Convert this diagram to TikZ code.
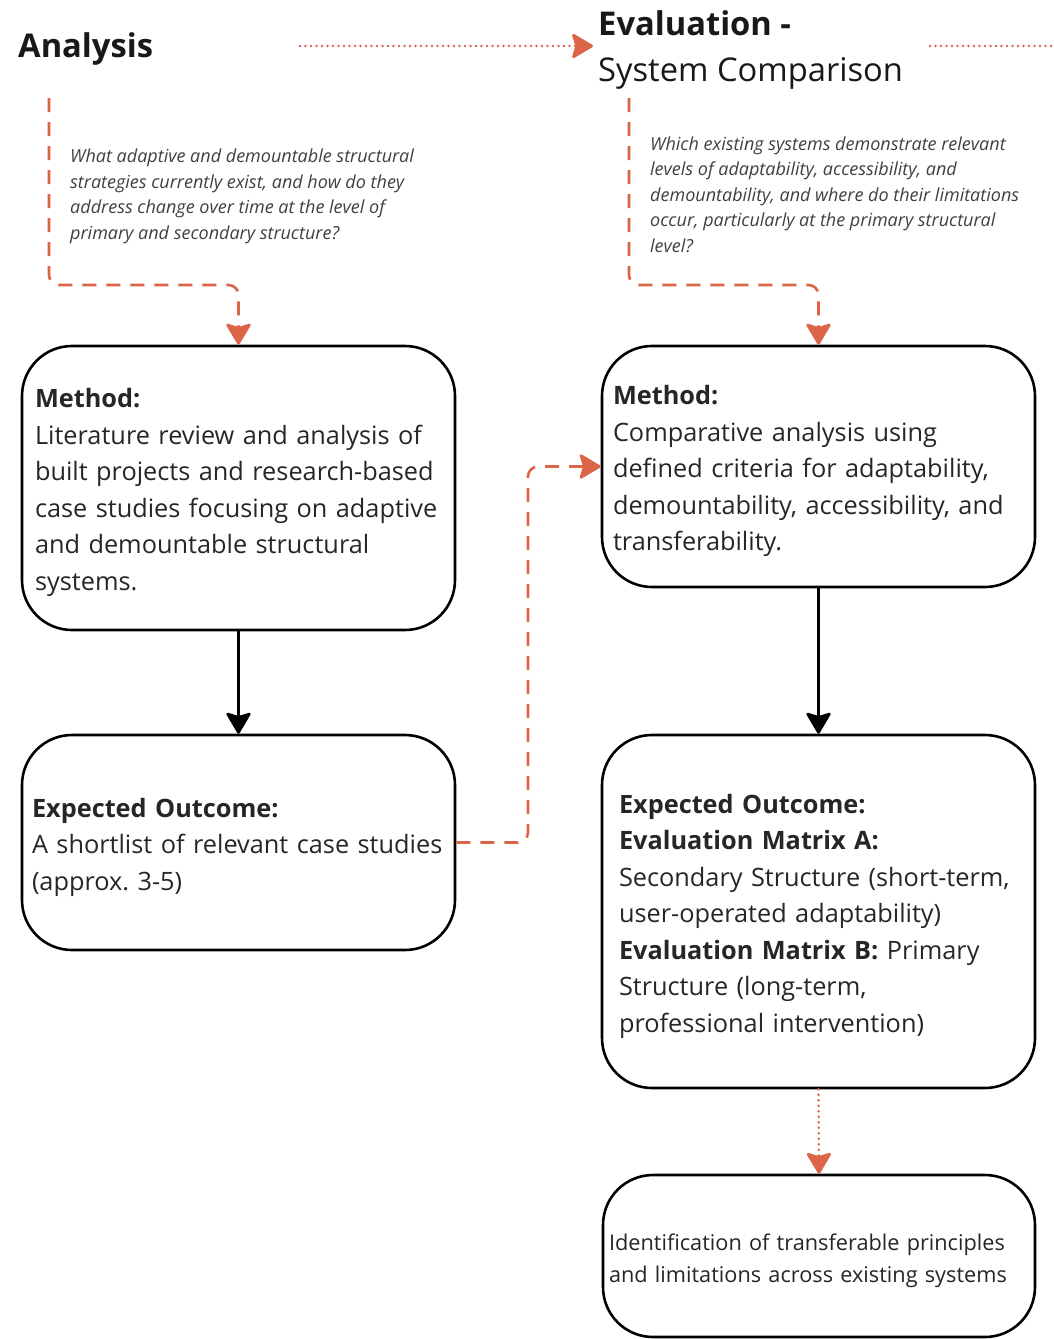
\documentclass[tikz,border=0pt]{standalone}
\usepackage{fontspec}
\setmainfont{Open Sans}
\usetikzlibrary{arrows.meta}
\definecolor{accent}{HTML}{DC6548}
\definecolor{bodytext}{HTML}{262626}
\definecolor{qtext}{HTML}{404040}
\newcommand\firstln[1]{\raisebox{0pt}[\dimexpr\height+9pt\relax]{#1}}
\tikzset{
  box/.style={draw=black, line width=2.6pt, rounded corners=50pt, align=left,
    font=\fontsize{25.3pt}{36.5pt}\selectfont\frenchspacing, text=bodytext, inner ysep=0pt},
  question/.style={align=left, font=\fontsize{18pt}{25.5pt}\selectfont\itshape, text=qtext, inner sep=0pt, anchor=west},
  heading/.style={align=left, font=\fontsize{32.7pt}{46pt}\selectfont, text=black!90, inner sep=0pt, anchor=west},
  tip/.style={-{Stealth[length=23pt,width=27pt,inset=4pt,round=false]}},
  dashlink/.style={draw=accent, line width=2.6pt, dash pattern=on 14pt off 10pt, rounded corners=10pt, tip},
  dotlink/.style={draw=accent, line width=2.8pt, line cap=round, dash pattern=on 0pt off 5.5pt, tip},
  dotline/.style={draw=accent, line width=2.8pt, line cap=round, dash pattern=on 0pt off 5.5pt},
  solidlink/.style={draw=black, line width=2.6pt, tip}
}
\begin{document}
\begin{tikzpicture}[x=1pt,y=-1pt]
\useasboundingbox[fill=white] (0,0) rectangle (1054,1339);

% headings
\node[heading] (analysis) at (18,49) {\bfseries Analysis};
\node[heading] (eval) at (598,50) {\bfseries Evaluation -\\System Comparison};

% questions
\node[question] (q1) at (70,196.5) {What adaptive and demountable structural\\strategies currently exist, and how do they\\address change over time at the level of\\primary and secondary structure?};
\node[question] (q2) at (650,194.5) {Which existing systems demonstrate relevant\\levels of adaptability, accessibility, and\\demountability, and where do their limitations\\occur, particularly at the primary structural\\level?};

% boxes
\node[box, minimum width=433pt, minimum height=284pt, text width=407pt, inner xsep=13pt] (lm) at (238.5,488)
  {\firstln{\textbf{Method:}}\\Literature review and analysis of\\built projects and research-based\\case studies focusing on adaptive\\and demountable structural\\systems.};
\node[box, minimum width=433pt, minimum height=215pt, text width=413pt, inner xsep=10pt] (le) at (238.5,842.5)
  {\firstln{\textbf{Expected Outcome:}}\\A shortlist of relevant case studies\\(approx. 3-5)};
\node[box, minimum width=433pt, minimum height=241pt, text width=411pt, inner xsep=11pt] (rm) at (818.5,466.5)
  {\firstln{\textbf{Method:}}\\Comparative analysis using\\defined criteria for adaptability,\\demountability, accessibility, and\\transferability.};
\node[box, minimum width=433pt, minimum height=353pt, text width=399pt, inner xsep=17pt] (re) at (818.5,911.5)
  {\firstln{\textbf{Expected Outcome:}}\\\textbf{Evaluation Matrix A:}\\Secondary Structure (short-term,\\user-operated adaptability)\\\textbf{Evaluation Matrix B:} Primary\\Structure (long-term,\\professional intervention)};
\node[box, minimum width=432pt, minimum height=162pt, text width=420pt, inner xsep=6pt,
  font=\fontsize{21.7pt}{32pt}\selectfont] (fb) at (819,1256)
  {\firstln{Identification of transferable principles}\\and limitations across existing systems};

% top dotted links
\coordinate (d1) at (300,46);
\coordinate (d2) at (930,46);
\coordinate (d3) at (1054,46);
\draw[dotlink] (d1) -- ([xshift=-5pt]eval.west |- d1);
\draw[dotline] (d2) -- (d3);

% dashed question links
\coordinate (c1) at (49,98);
\coordinate (c2) at (629,98);
\draw[dashlink] (c1) -- (49,285) -- (lm.north |- 0,285) -- (lm.north);
\draw[dashlink] (c2) -- (629,285) -- (rm.north |- 0,285) -- (rm.north);

% solid arrows
\draw[solidlink] (lm.south) -- (le.north);
\draw[solidlink] (rm.south) -- (re.north);

% cross link
\draw[dashlink] (le.east) -- (528,842.5) -- (528,466.5) -- (rm.west);

% final dotted
\draw[dotlink] (re.south) -- (fb.north);
\end{tikzpicture}
\end{document}
